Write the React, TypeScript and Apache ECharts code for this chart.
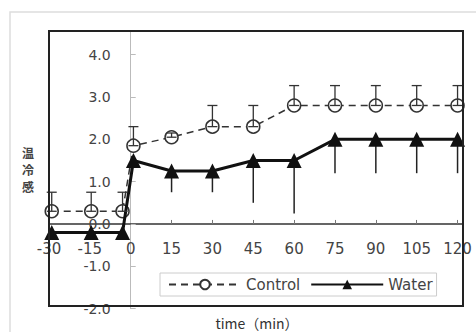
import React, { useEffect, useRef } from "react";
import * as echarts from "echarts";

// x tick labels (minutes)
const tickLabels = [-30, -15, 0, 15, 30, 45, 60, 75, 90, 105, 120];
const tickMarks = [15, 30, 45, 60, 75, 90, 105, 120];
// time points (plotted positions; the two "0" points are split before/after)
const timePos = [-29, -14.5, -3, 1, 15, 30, 45, 60, 75, 90, 105, 120];
// Control: mean and upper error
const controlMean = [0.3, 0.3, 0.3, 1.85, 2.05, 2.3, 2.3, 2.8, 2.8, 2.8, 2.8, 2.8];
const controlErr = [0.45, 0.45, 0.45, 0.45, 0.1, 0.5, 0.5, 0.47, 0.47, 0.47, 0.47, 0.47];
// Water: mean and lower error
const waterMean = [-0.2, -0.2, -0.2, 1.5, 1.25, 1.25, 1.5, 1.5, 2.0, 2.0, 2.0, 2.0];
const waterErr = [0, 0, 0, 0, 0.5, 0.5, 1.0, 1.25, 0.8, 0.8, 0.8, 0.8];
const yTicks = [-2, -1, 0, 1, 2, 3, 4];
const yTitleChars = ["温", "冷", "感"];

const X_MIN = -30;
const X_MAX = 122;
const Y_MIN = -2;
const Y_MAX = 4.56;
const GRID_LEFT = 49;
const GRID_WIDTH = 414;
const GRID_TOP = 31;
const GRID_HEIGHT = 277.6;

export default function App() {
  const ref = useRef<HTMLDivElement>(null);
  useEffect(() => {
    if (!ref.current) return;
    const chart = echarts.init(ref.current, undefined, { renderer: "svg" });
    const ctrlData = timePos.map((t, i) => [t, controlMean[i]]);
    const waterData = timePos.map((t, i) => [t, waterMean[i]]);
    const ctrlErrData = timePos.map((t, i) => [t, controlMean[i], controlErr[i]]);
    const waterErrData = timePos.map((t, i) => [t, waterMean[i], waterErr[i]]);
    const font = "'DejaVu Sans', sans-serif";
    // place the axes at x = 0 and y = 0 (moves line, ticks and labels together)
    const yAxisOffset = -((0 - X_MIN) / (X_MAX - X_MIN)) * GRID_WIDTH;
    const xAxisOffset = -((0 - Y_MIN) / (Y_MAX - Y_MIN)) * GRID_HEIGHT;
    chart.setOption({
      animation: false,
      backgroundColor: "#fff",
      textStyle: { fontFamily: font },
      grid: {
        left: GRID_LEFT,
        width: GRID_WIDTH,
        top: GRID_TOP,
        height: GRID_HEIGHT,
        outerBoundsMode: "none",
      },
      xAxis: {
        type: "value",
        min: X_MIN,
        max: X_MAX,
        interval: 15,
        offset: xAxisOffset,
        splitLine: { show: false },
        axisLine: { onZero: false, lineStyle: { color: "#333", width: 1.5 } },
        axisTick: { inside: true, length: 4, customValues: tickMarks, lineStyle: { color: "#777" } },
        axisLabel: { customValues: tickLabels, color: "#444", fontSize: 15, margin: 18, fontFamily: font },
      },
      yAxis: {
        type: "value",
        min: Y_MIN,
        max: Y_MAX,
        offset: yAxisOffset,
        splitLine: { show: false },
        axisLine: { show: true, onZero: false, lineStyle: { color: "#bbb", width: 1 } },
        axisTick: { show: true, inside: true, length: 5, customValues: yTicks, lineStyle: { color: "#bbb" } },
        axisLabel: {
          customValues: yTicks,
          color: "#444",
          fontSize: 14,
          margin: 20,
          fontFamily: font,
          formatter: (v: number) => v.toFixed(1),
        },
      },
      legend: {
        data: ["Control", "Water"],
        left: 160,
        top: 273,
        padding: [4, 4, 4, 8],
        borderColor: "#ccc",
        borderWidth: 1,
        itemGap: 10,
        itemWidth: 72,
        itemHeight: 12,
        textStyle: { color: "#444", fontSize: 15, fontFamily: font },
      },
      series: [
        {
          name: "Control",
          type: "line",
          data: ctrlData,
          symbol: "circle",
          symbolSize: 13,
          z: 3,
          lineStyle: { color: "#333", width: 1.5, type: [7, 5] },
          itemStyle: { color: "#fff", borderColor: "#333", borderWidth: 1.5 },
        },
        {
          name: "Water",
          type: "line",
          data: waterData,
          symbol: "triangle",
          symbolSize: 15,
          z: 4,
          lineStyle: { color: "#111", width: 3 },
          itemStyle: { color: "#111" },
        },
        {
          name: "ControlErr",
          type: "custom",
          z: 5,
          data: ctrlErrData,
          renderItem: (params: any, api: any) => {
            const x = api.value(0);
            const y = api.value(1);
            const e = api.value(2);
            const p0 = api.coord([x, y]);
            const p1 = api.coord([x, y + e]);
            const style = { stroke: "#333", lineWidth: 1.3 };
            return {
              type: "group",
              children: [
                { type: "line", shape: { x1: p0[0], y1: p0[1], x2: p1[0], y2: p1[1] }, style },
                { type: "line", shape: { x1: p1[0] - 5, y1: p1[1], x2: p1[0] + 5, y2: p1[1] }, style },
                { type: "line", shape: { x1: p0[0] - 5, y1: p0[1], x2: p0[0] + 5, y2: p0[1] }, style },
              ],
            };
          },
        },
        {
          name: "WaterErr",
          type: "custom",
          z: 2,
          data: waterErrData,
          renderItem: (params: any, api: any) => {
            const x = api.value(0);
            const y = api.value(1);
            const e = api.value(2);
            const p0 = api.coord([x, y]);
            const p1 = api.coord([x, y - e]);
            return {
              type: "line",
              shape: { x1: p0[0], y1: p0[1], x2: p1[0], y2: p1[1] },
              style: { stroke: "#222", lineWidth: 1.5 },
            };
          },
        },
      ],
      graphic: [
        {
          type: "rect",
          z: -1,
          shape: { x: 10, y: 12, width: 475, height: 330 },
          style: { fill: "none", stroke: "#ddd", lineWidth: 1.5 },
        },
        {
          type: "rect",
          z: 10,
          shape: { x: 49, y: 31, width: 414, height: 275 },
          style: { fill: "none", stroke: "#222", lineWidth: 2 },
        },
        ...yTitleChars.map((ch, i) => ({
          type: "text",
          x: 28,
          y: 152 + i * 17,
          style: {
            text: ch,
            font: "bold 12px 'Noto Sans CJK JP'",
            lineHeight: 15,
            fill: "#444",
            align: "center",
            verticalAlign: "middle",
          },
        })),
        {
          type: "text",
          x: 257,
          y: 323,
          style: {
            text: "time（min）",
            font: "14px 'Noto Sans CJK JP'",
            fill: "#333",
            align: "center",
            verticalAlign: "middle",
          },
        },
      ],
    });
    return () => chart.dispose();
  }, []);
  return (
    <div
      ref={ref}
      style={{ position: "fixed", left: 0, top: 0, width: 476, height: 332 }}
    />
  );
}
